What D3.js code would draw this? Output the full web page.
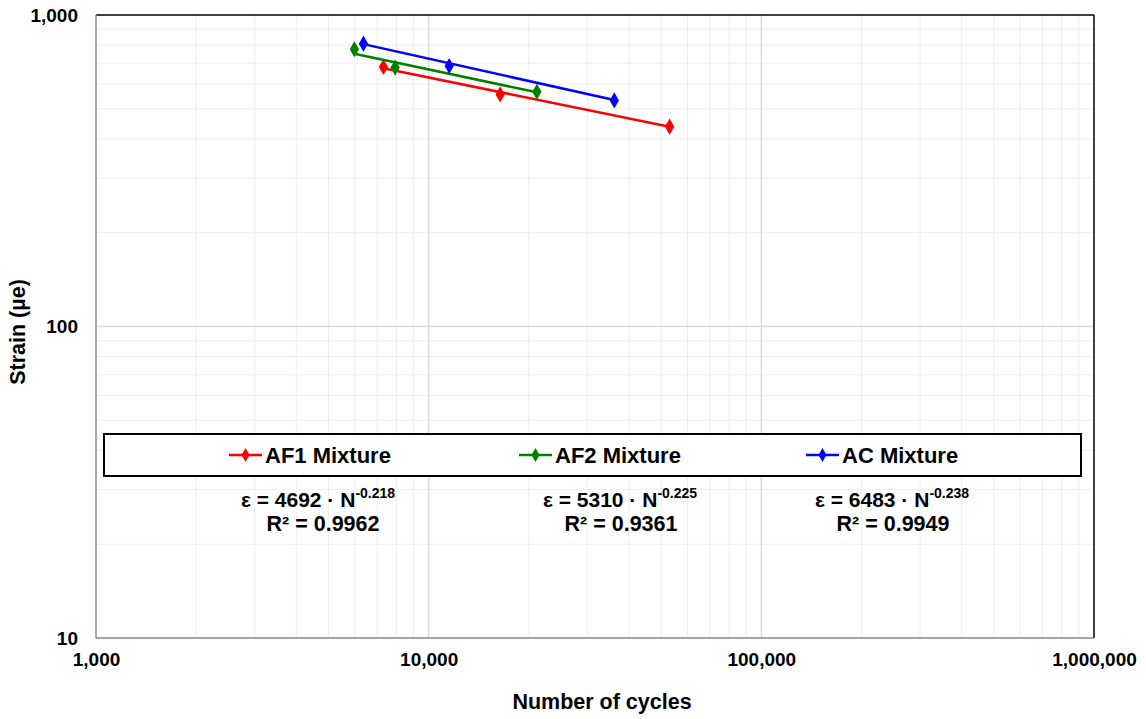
<!DOCTYPE html>
<html>
<head>
<meta charset="utf-8">
<script src="https://cdn.jsdelivr.net/npm/d3@7"></script>
<style>
  body { margin: 0; background: #fff; }
  text { font-family: "Liberation Sans", Arial, sans-serif; font-weight: bold; fill: #000; }
</style>
</head>
<body>
<div id="chart"></div>
<script>
var svgWidth = 1146;
var svgHeight = 719;

var margin = { top: 15, right: 52, bottom: 81, left: 96 };
var width = svgWidth - margin.left - margin.right;
var height = svgHeight - margin.top - margin.bottom;

// data
var seriesNames = ["AF1 Mixture", "AF2 Mixture", "AC Mixture"];
var seriesColors = ["#ff0000", "#008000", "#0000ff"];
var af1Cycles = [7311, 16406, 52990];
var af1Strain = [681, 556, 438];
var af2Cycles = [5980, 7930, 21150];
var af2Strain = [776, 678, 567];
var acCycles = [6368, 11527, 36140];
var acStrain = [809, 686, 532];
// power trendline coefficients shown on the chart
var fitCoef = [4692, 5310, 6483];
var fitExp = [-0.218, -0.225, -0.238];
var fitR2 = ["0.9962", "0.9361", "0.9949"];
var xTicks = [1000, 10000, 100000, 1000000];
var yTicks = [10, 100, 1000];

var allCycles = [af1Cycles, af2Cycles, acCycles];
var allStrain = [af1Strain, af2Strain, acStrain];

var svg = d3.select("#chart")
  .append("svg")
  .attr("width", svgWidth)
  .attr("height", svgHeight);

var chartGroup = svg.append("g")
  .attr("transform", `translate(${margin.left}, ${margin.top})`);

var xScale = d3.scaleLog().domain([1000, 1000000]).range([0, width]);
var yScale = d3.scaleLog().domain([10, 1000]).range([height, 0]);

// minor grid
var xMinor = [], yMinor = [];
[1000, 10000, 100000].forEach(function(d) {
  for (var k = 2; k < 10; k++) xMinor.push(d * k);
});
[10, 100].forEach(function(d) {
  for (var k = 2; k < 10; k++) yMinor.push(d * k);
});

chartGroup.append("g").selectAll("line")
  .data(xMinor).enter().append("line")
  .attr("x1", d => xScale(d)).attr("x2", d => xScale(d))
  .attr("y1", 0).attr("y2", height)
  .attr("stroke", "#efefef").attr("stroke-width", 1);

chartGroup.append("g").selectAll("line")
  .data(yMinor).enter().append("line")
  .attr("y1", d => yScale(d)).attr("y2", d => yScale(d))
  .attr("x1", 0).attr("x2", width)
  .attr("stroke", "#efefef").attr("stroke-width", 1);

// major grid
chartGroup.append("g").selectAll("line")
  .data(xTicks.slice(1, 3)).enter().append("line")
  .attr("x1", d => xScale(d)).attr("x2", d => xScale(d))
  .attr("y1", 0).attr("y2", height)
  .attr("stroke", "#dcdcdc").attr("stroke-width", 1.5);

chartGroup.append("g").selectAll("line")
  .data(yTicks.slice(1, 2)).enter().append("line")
  .attr("y1", d => yScale(d)).attr("y2", d => yScale(d))
  .attr("x1", 0).attr("x2", width)
  .attr("stroke", "#dcdcdc").attr("stroke-width", 1.5);

// plot border
chartGroup.append("line").attr("x1", 0).attr("x2", width).attr("y1", 0).attr("y2", 0)
  .attr("stroke", "#000").attr("stroke-width", 1.5);
chartGroup.append("line").attr("x1", width).attr("x2", width).attr("y1", 0).attr("y2", height)
  .attr("stroke", "#000").attr("stroke-width", 1.5);
chartGroup.append("line").attr("x1", 0).attr("x2", 0).attr("y1", 0).attr("y2", height)
  .attr("stroke", "#888").attr("stroke-width", 1.5);
chartGroup.append("line").attr("x1", 0).attr("x2", width).attr("y1", height).attr("y2", height)
  .attr("stroke", "#888").attr("stroke-width", 1.5);

// tick labels via d3 axes
var fmt = d3.format(",");
var bottomAxis = d3.axisBottom(xScale).tickValues(xTicks).tickFormat(fmt).tickSize(0).tickPadding(15);
var leftAxis = d3.axisLeft(yScale).tickValues(yTicks).tickFormat(fmt).tickSize(0).tickPadding(18);

var xAxis = chartGroup.append("g")
  .attr("transform", `translate(0, ${height})`)
  .call(bottomAxis);
var yAxis = chartGroup.append("g").call(leftAxis);

[xAxis, yAxis].forEach(function(a) {
  a.select(".domain").remove();
  a.selectAll("text")
    .attr("font-family", "Liberation Sans, Arial, sans-serif")
    .attr("font-weight", "bold")
    .attr("font-size", 19)
    .attr("fill", "#000");
});

// axis titles
svg.append("text")
  .attr("x", 602)
  .attr("y", 709)
  .attr("text-anchor", "middle")
  .attr("font-size", 21.5)
  .text("Number of cycles");

svg.append("text")
  .attr("transform", "translate(25, 332) rotate(-90)")
  .attr("text-anchor", "middle")
  .attr("font-size", 21.5)
  .text("Strain (\u00b5e)");

// series: trendline between min and max cycles, plus markers
var diamond = d3.symbol().type(d3.symbolDiamond).size(75);

seriesNames.forEach(function(name, i) {
  var xs = allCycles[i];
  var ys = allStrain[i];
  var n0 = d3.min(xs), n1 = d3.max(xs);
  var fitPts = [n0, n1].map(n => [n, fitCoef[i] * Math.pow(n, fitExp[i])]);

  chartGroup.append("path")
    .datum(fitPts)
    .attr("fill", "none")
    .attr("stroke", seriesColors[i])
    .attr("stroke-width", 2.5)
    .attr("d", d3.line().x(d => xScale(d[0])).y(d => yScale(d[1])));

  chartGroup.append("g").selectAll("path")
    .data(xs.map((x, j) => [x, ys[j]]))
    .enter().append("path")
    .attr("d", diamond)
    .attr("transform", d => `translate(${xScale(d[0])}, ${yScale(d[1])})`)
    .attr("fill", seriesColors[i]);
});

// legend box
svg.append("rect")
  .attr("x", 104).attr("y", 434)
  .attr("width", 977).attr("height", 42)
  .attr("fill", "#fff")
  .attr("stroke", "#000").attr("stroke-width", 2);

var legendX = [229, 519, 806];
var legendDiamond = d3.symbol().type(d3.symbolDiamond).size(55);
seriesNames.forEach(function(name, i) {
  var g = svg.append("g").attr("transform", `translate(${legendX[i]}, 455)`);
  g.append("line").attr("x1", 0).attr("x2", 33).attr("y1", 0).attr("y2", 0)
    .attr("stroke", seriesColors[i]).attr("stroke-width", 2.5);
  g.append("path").attr("d", legendDiamond).attr("transform", "translate(16.5,0)")
    .attr("fill", seriesColors[i]);
  g.append("text").attr("x", 36).attr("y", 8).attr("font-size", 22).text(name);
});

// equations
var eqX = [318, 620, 892];
var r2X = [323, 621, 893];
seriesNames.forEach(function(name, i) {
  var t = svg.append("text")
    .attr("x", eqX[i]).attr("y", 507)
    .attr("text-anchor", "middle")
    .attr("font-size", 21);
  t.append("tspan").text("\u03b5 = " + fitCoef[i] + " \u00b7 N");
  t.append("tspan").attr("font-size", 14).attr("dy", -9).text(fitExp[i].toFixed(3));

  svg.append("text")
    .attr("x", r2X[i]).attr("y", 531)
    .attr("text-anchor", "middle")
    .attr("font-size", 21.5)
    .text("R\u00b2 = " + fitR2[i]);
});
</script>
</body>
</html>
